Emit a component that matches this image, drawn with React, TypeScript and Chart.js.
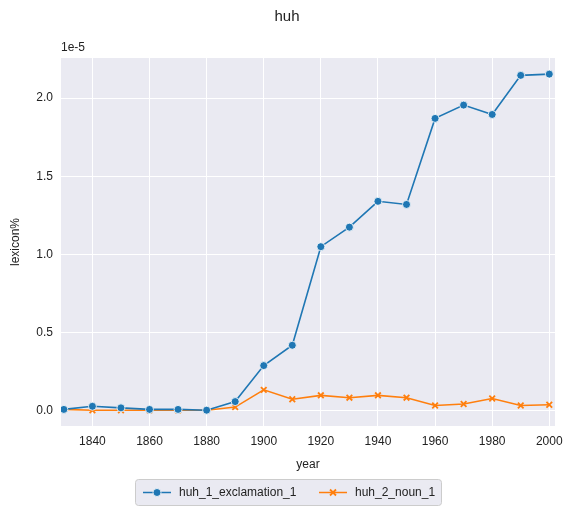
import { useEffect, useRef } from "react";
import { Chart, registerables, type ChartConfiguration, type Plugin } from "chart.js";

Chart.register(...registerables);

const years = [1830, 1840, 1850, 1860, 1870, 1880, 1890, 1900, 1910, 1920, 1930, 1940, 1950, 1960, 1970, 1980, 1990, 2000];
const exclamation = [0.01, 0.03, 0.02, 0.01, 0.01, 0.005, 0.06, 0.29, 0.42, 1.05, 1.175, 1.34, 1.32, 1.87, 1.955, 1.895, 2.145, 2.153];
const noun = [0.01, 0.005, 0.005, 0.005, 0.005, 0.005, 0.025, 0.135, 0.075, 0.1, 0.085, 0.1, 0.085, 0.035, 0.045, 0.08, 0.035, 0.04];
const seriesNames = ["huh_1_exclamation_1", "huh_2_noun_1"];
const xTicks = [1840, 1860, 1880, 1900, 1920, 1940, 1960, 1980, 2000];

const FONT = "'Liberation Sans', Arial, sans-serif";
const BLUE = "#1f77b4";
const ORANGE = "#ff7f0e";

const bgPlugin: Plugin<"line"> = {
  id: "extras",
  beforeDraw(chart) {
    const { ctx, chartArea: a } = chart;
    ctx.save();
    ctx.fillStyle = "#eaeaf2";
    ctx.fillRect(a.left, a.top, a.right - a.left, a.bottom - a.top);
    ctx.restore();
  },
  afterDraw(chart) {
    const { ctx, chartArea: a } = chart;
    ctx.save();
    ctx.fillStyle = "#222";
    ctx.font = `15px ${FONT}`;
    ctx.textAlign = "center";
    ctx.textBaseline = "middle";
    ctx.fillText("huh", 287, 17);
    ctx.font = `12px ${FONT}`;
    ctx.textAlign = "left";
    ctx.fillText("1e-5", a.left, 48);

    // legend
    const bx = 135, by = 479, bw = 306, bh = 26;
    ctx.fillStyle = "#eaeaf2";
    ctx.strokeStyle = "#cccccc";
    ctx.lineWidth = 1;
    ctx.beginPath();
    ctx.roundRect(bx + 0.5, by + 0.5, bw, bh, 3);
    ctx.fill();
    ctx.stroke();
    const cy = by + bh / 2 + 0.5;
    const items = [
      { x: bx + 8, color: BLUE, name: seriesNames[0], marker: "circle" },
      { x: bx + 184, color: ORANGE, name: seriesNames[1], marker: "x" },
    ];
    for (const it of items) {
      ctx.strokeStyle = it.color;
      ctx.lineWidth = 1.5;
      ctx.beginPath();
      ctx.moveTo(it.x, cy);
      ctx.lineTo(it.x + 28, cy);
      ctx.stroke();
      const mx = it.x + 14;
      if (it.marker === "circle") {
        ctx.fillStyle = it.color;
        ctx.strokeStyle = "#fff";
        ctx.lineWidth = 0.8;
        ctx.beginPath();
        ctx.arc(mx, cy, 4, 0, Math.PI * 2);
        ctx.fill();
        ctx.stroke();
      } else {
        ctx.lineWidth = 1.8;
        ctx.beginPath();
        ctx.moveTo(mx - 3, cy - 3);
        ctx.lineTo(mx + 3, cy + 3);
        ctx.moveTo(mx + 3, cy - 3);
        ctx.lineTo(mx - 3, cy + 3);
        ctx.stroke();
      }
      ctx.fillStyle = "#222";
      ctx.font = `12px ${FONT}`;
      ctx.fillText(it.name, it.x + 36, cy);
    }
    ctx.restore();
  },
};

export default function App() {
  const canvasRef = useRef<HTMLCanvasElement | null>(null);

  useEffect(() => {
    const canvas = canvasRef.current;
    if (!canvas) return;
    const config: ChartConfiguration<"line"> = {
      type: "line",
      data: {
        datasets: [
          {
            label: seriesNames[0],
            data: years.map((y, i) => ({ x: y, y: exclamation[i] })),
            borderColor: BLUE,
            backgroundColor: BLUE,
            borderWidth: 1.6,
            pointRadius: 4,
            pointBorderColor: "#fff",
            pointBorderWidth: 0.8,
            pointStyle: "circle",
          },
          {
            label: seriesNames[1],
            data: years.map((y, i) => ({ x: y, y: noun[i] })),
            borderColor: ORANGE,
            backgroundColor: ORANGE,
            borderWidth: 1.6,
            pointRadius: 4,
            pointBorderColor: ORANGE,
            pointBorderWidth: 1.8,
            pointStyle: "crossRot",
          },
        ],
      },
      options: {
        responsive: false,
        animation: false,
        layout: { padding: { left: 4, right: 20, top: 58, bottom: 39 } },
        scales: {
          x: {
            type: "linear",
            min: 1829,
            max: 2002,
            afterBuildTicks: (s) => {
              s.ticks = xTicks.map((v) => ({ value: v }));
            },
            afterFit: (s) => {
              s.height = 50;
            },
            grid: { color: "#ffffff", lineWidth: 1, drawTicks: false },
            border: { display: false },
            ticks: { color: "#222", font: { family: FONT, size: 12 }, padding: 8, callback: (v) => String(v) },
            title: { display: true, text: "year", color: "#222", font: { family: FONT, size: 12 }, padding: { top: 4 } },
          },
          y: {
            min: -0.096,
            max: 2.256,
            afterBuildTicks: (s) => {
              s.ticks = [0, 0.5, 1, 1.5, 2].map((v) => ({ value: v }));
            },
            afterFit: (s) => {
              s.width = 57;
            },
            grid: { color: "#ffffff", lineWidth: 1, drawTicks: false },
            border: { display: false },
            ticks: { color: "#222", font: { family: FONT, size: 12 }, padding: 8, callback: (v) => Number(v).toFixed(1) },
            title: { display: true, text: "lexicon%", color: "#222", font: { family: FONT, size: 12 }, padding: { bottom: 2 } },
          },
        },
        plugins: {
          legend: { display: false },
          title: { display: false },
          tooltip: { enabled: false },
        },
      },
      plugins: [bgPlugin],
    };
    const chart = new Chart(canvas, config);
    return () => chart.destroy();
  }, []);

  return (
    <div style={{ position: "absolute", left: 0, top: 0, width: 575, height: 515, background: "#fff" }}>
      <canvas ref={canvasRef} width={575} height={515} style={{ width: 575, height: 515 }} />
    </div>
  );
}
